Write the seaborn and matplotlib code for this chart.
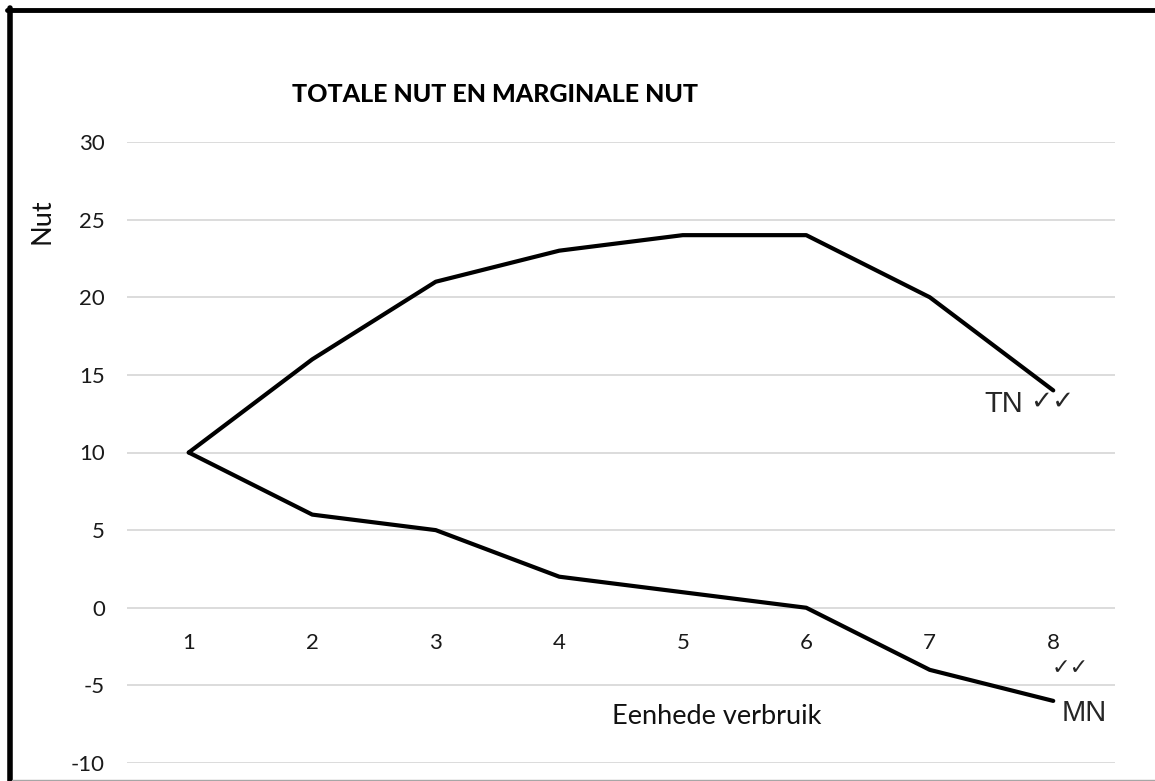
import matplotlib
matplotlib.use("Agg")
import matplotlib.pyplot as plt
import seaborn as sns
import pandas as pd
from matplotlib.lines import Line2D

units = [1, 2, 3, 4, 5, 6, 7, 8]
totale_nut = [10, 16, 21, 23, 24, 24, 20, 14]
marginale_nut = [10, 6, 5, 2, 1, 0, -4, -6]
y_ticks = [-10, -5, 0, 5, 10, 15, 20, 25, 30]

df = pd.DataFrame({
    "Eenhede": units * 2,
    "Nut": totale_nut + marginale_nut,
    "Reeks": ["TN"] * len(units) + ["MN"] * len(units),
})

sns.set_theme(style="white")
plt.rcParams["font.family"] = ["Lato", "DejaVu Sans"]
plt.rcParams["axes.unicode_minus"] = False

W, H = 1155, 781
fig = plt.figure(figsize=(W / 100, H / 100), dpi=100)
ax = fig.add_axes([127 / W, (H - 763) / H, (1115 - 127) / W, (763 - 142) / H])

sns.lineplot(data=df, x="Eenhede", y="Nut", hue="Reeks", palette={"TN": "black", "MN": "black"},
             linewidth=3, legend=False, ax=ax, sort=False)

ax.set_xlim(0.5, 8.5)
ax.set_ylim(-10, 30)
ax.set_yticks(y_ticks)
ax.set_xticks(units)
ax.set_xticklabels([str(u) for u in units])
ax.yaxis.grid(True, color="#d9d9d9", linewidth=1.3)
ax.xaxis.grid(False)
for s in ["top", "right", "left"]:
    ax.spines[s].set_visible(False)
ax.spines["bottom"].set_position(("data", 0))
ax.spines["bottom"].set_visible(False)
ax.tick_params(axis="x", length=0, pad=18, labelsize=16, colors="#1a1a1a")
ax.tick_params(axis="y", length=0, pad=16, labelsize=16, colors="#1a1a1a")

ax.set_xlabel("Eenhede verbruik", fontsize=19.5, color="#111111")
ax.xaxis.set_label_coords((717 - 127) / 988, (763 - 716) / 621)
ax.xaxis.label.set_va("center")
ax.set_ylabel("Nut", fontsize=19.5, color="#111111")
ax.yaxis.set_label_coords((54 - 127) / 988, (763 - 221) / 621)

fig.text(292 / W, 1 - 95 / H, "TOTALE NUT EN MARGINALE NUT", fontsize=18, fontweight="black",
         ha="left", va="center", color="black")

# Series labels
ax.text(7.44, 13.1, "TN", fontsize=21, family=["Liberation Sans"], ha="left", va="center")
ax.text(7.81, 13.3, "\u2713\u2713", fontsize=19, family=["DejaVu Sans"], ha="left", va="center")
ax.text(8.07, -6.8, "MN", fontsize=21, family=["Liberation Sans"], ha="left", va="center")
ax.text(7.99, -3.9, "\u2713\u2713", fontsize=16, family=["DejaVu Sans"], ha="left", va="center")

# Chart-area border (left and top thick, bottom thin grey)
fig.add_artist(Line2D([9.5 / W, 9.5 / W], [0, 1 - 8 / H], color="black", linewidth=4, transform=fig.transFigure))
fig.add_artist(Line2D([7 / W, 1], [1 - 10 / H, 1 - 10 / H], color="black", linewidth=3.5, transform=fig.transFigure))
fig.add_artist(Line2D([12 / W, 1], [1.2 / H, 1.2 / H], color="#a6a6a6", linewidth=1, transform=fig.transFigure))

fig.savefig("out.png", dpi=100)
